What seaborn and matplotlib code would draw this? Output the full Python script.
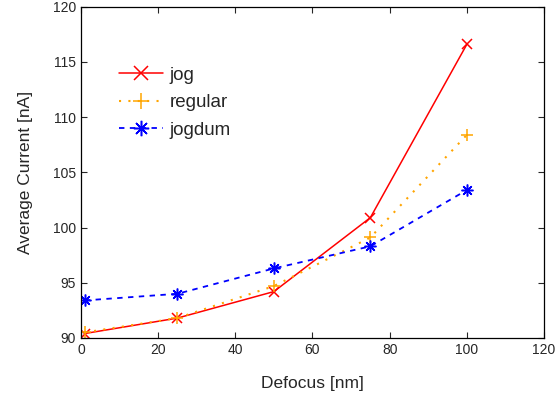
import pandas as pd
import seaborn as sns
import matplotlib.pyplot as plt

defocus = [1, 25, 50, 75, 100]
jog = [90.4, 91.8, 94.2, 100.9, 116.6]
regular = [90.5, 91.8, 94.7, 99.1, 108.4]
jogdum = [93.4, 94.0, 96.3, 98.3, 103.4]

sns.set_style("ticks")
plt.rcParams['font.family'] = ['Liberation Sans', 'DejaVu Sans']

fig = plt.figure(figsize=(5.58, 3.99), dpi=100)
ax = fig.add_axes([0.145, 0.153, 0.83, 0.83])

styles = [
    ("jog", jog, "#ff0000", "-", "x", 7.5, 1.1),
    ("regular", regular, "#ffa500", (0, (1, 3.5)), "+", 9, 1.5),
    ("jogdum", jogdum, "#0000ff", (0, (3, 3)), (8, 2, 0), 8.5, 1.3),
]
for name, vals, col, ls, mk, ms, lw in styles:
    sns.lineplot(x=defocus, y=vals, ax=ax, color=col, linestyle=ls, marker=mk,
                 markersize=ms, markeredgecolor=col, markeredgewidth=1.1,
                 linewidth=lw, label=name)

ax.set_xlim(0, 120)
ax.set_ylim(90, 120)
ax.set_xticks(range(0, 121, 20))
ax.set_yticks(range(90, 121, 5))
ax.tick_params(direction="in", top=True, right=True, labelsize=10, length=4, width=0.8)
for s in ax.spines.values():
    s.set_linewidth(0.9)
    s.set_color("black")
ax.set_xlabel("Defocus [nm]", fontsize=12.5, labelpad=14)
ax.set_ylabel("Average Current [nA]", fontsize=12.5, labelpad=14)

leg = ax.legend(loc="upper left", bbox_to_anchor=(0.045, 0.87), frameon=False,
                fontsize=13.5, handlelength=2.35, handletextpad=0.35, labelspacing=0.55,
                markerscale=1.3)

fig.savefig("out.png", dpi=100)
